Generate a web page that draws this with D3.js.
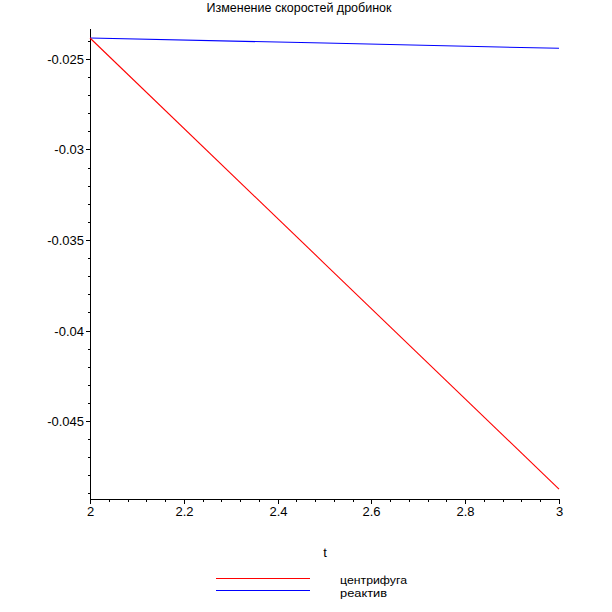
<!DOCTYPE html>
<html><head><meta charset="utf-8">
<script src="https://cdn.jsdelivr.net/npm/d3@7"></script>
<style>body{margin:0;background:#fff}svg{display:block}text{font-family:"Liberation Sans",Arial,sans-serif;fill:#000}</style>
</head><body>
<script>
const title = "Изменение скоростей дробинок";
const xLabel = "t";
const seriesNames = ["центрифуга", "реактив"];
const seriesColors = ["#ff0000", "#0000ff"];
const tValues = [2, 2.5, 3];
const centrifugeValues = [-0.02384, -0.03630, -0.04876];
const reagentValues = [-0.02384, -0.02412, -0.02441];
const xTicks = [2, 2.2, 2.4, 2.6, 2.8, 3];
const xTickLabels = ["2", "2.2", "2.4", "2.6", "2.8", "3"];
const yTicks = [-0.025, -0.03, -0.035, -0.04, -0.045];
const yTickLabels = ["-0.025", "-0.03", "-0.035", "-0.04", "-0.045"];

const W = 612, H = 612;
const svg = d3.select("body").append("svg").attr("width", W).attr("height", H);

const x = d3.scaleLinear().domain([2, 3]).range([90, 559]);
const y = d3.scaleLinear().domain([-0.025, -0.045]).range([59, 421]);
const yTop = -0.02334, yBot = -0.04931;

const xMinor = d3.range(0, 26).map(i => 2 + i * 0.04).filter(v => !xTicks.some(t => Math.abs(t - v) < 1e-9));
const yMinor = d3.range(-0.024, -0.0495, -0.001).filter(v => v <= yTop && v >= yBot && !yTicks.some(t => Math.abs(t - v) < 1e-9));

const g = svg.append("g").attr("shape-rendering", "crispEdges");
g.append("line").attr("x1", x(2) + 0.5).attr("x2", x(2) + 0.5).attr("y1", y(yTop)).attr("y2", y(yBot)).attr("stroke", "#000");
g.append("line").attr("x1", x(2)).attr("x2", x(3) + 1).attr("y1", y(yBot) + 0.5).attr("y2", y(yBot) + 0.5).attr("stroke", "#000");

yTicks.forEach((v, i) => {
  const py = Math.round(y(v)) + 0.5;
  g.append("line").attr("x1", x(2) - 4).attr("x2", x(2)).attr("y1", py).attr("y2", py).attr("stroke", "#000");
  svg.append("text").attr("x", x(2) - 6).attr("y", py + 4.5).attr("text-anchor", "end").attr("font-size", 13).text(yTickLabels[i]);
});
yMinor.forEach(v => {
  const py = Math.round(y(v)) + 0.5;
  g.append("line").attr("x1", x(2) - 2).attr("x2", x(2)).attr("y1", py).attr("y2", py).attr("stroke", "#000");
});
const ay = Math.round(y(yBot)) + 0.5;
xTicks.forEach((v, i) => {
  const px = Math.round(x(v)) + 0.5;
  g.append("line").attr("x1", px).attr("x2", px).attr("y1", ay).attr("y2", ay + 4).attr("stroke", "#000");
  svg.append("text").attr("x", px).attr("y", ay + 16).attr("text-anchor", "middle").attr("font-size", 13).text(xTickLabels[i]);
});
xMinor.forEach(v => {
  const px = Math.round(x(v)) + 0.5;
  g.append("line").attr("x1", px).attr("x2", px).attr("y1", ay).attr("y2", ay + 2).attr("stroke", "#000");
});

const line = d3.line().x(d => x(d[0])).y(d => y(d[1]));
[reagentValues, centrifugeValues].forEach((vals, k) => {
  const idx = k === 0 ? 1 : 0;
  svg.append("path").datum(tValues.map((t, i) => [t, vals[i]]))
    .attr("d", line).attr("fill", "none").attr("stroke", seriesColors[idx]).attr("stroke-width", 1.1);
});

svg.append("text").attr("x", 299).attr("y", 12).attr("text-anchor", "middle").attr("font-size", 12.5).text(title);
svg.append("text").attr("x", 325).attr("y", 557).attr("text-anchor", "middle").attr("font-size", 13).text(xLabel);

seriesNames.forEach((name, i) => {
  const ly = 578 + i * 12;
  svg.append("line").attr("x1", 216).attr("x2", 310).attr("y1", ly + 0.5).attr("y2", ly + 0.5)
    .attr("stroke", seriesColors[i]).attr("shape-rendering", "crispEdges");
  svg.append("text").attr("x", 340).attr("y", 584 + i * 13).attr("font-size", 11.5)
    .attr("textLength", i === 0 ? 67 : 47).attr("lengthAdjust", "spacingAndGlyphs").text(name);
});
</script>
</body></html>
